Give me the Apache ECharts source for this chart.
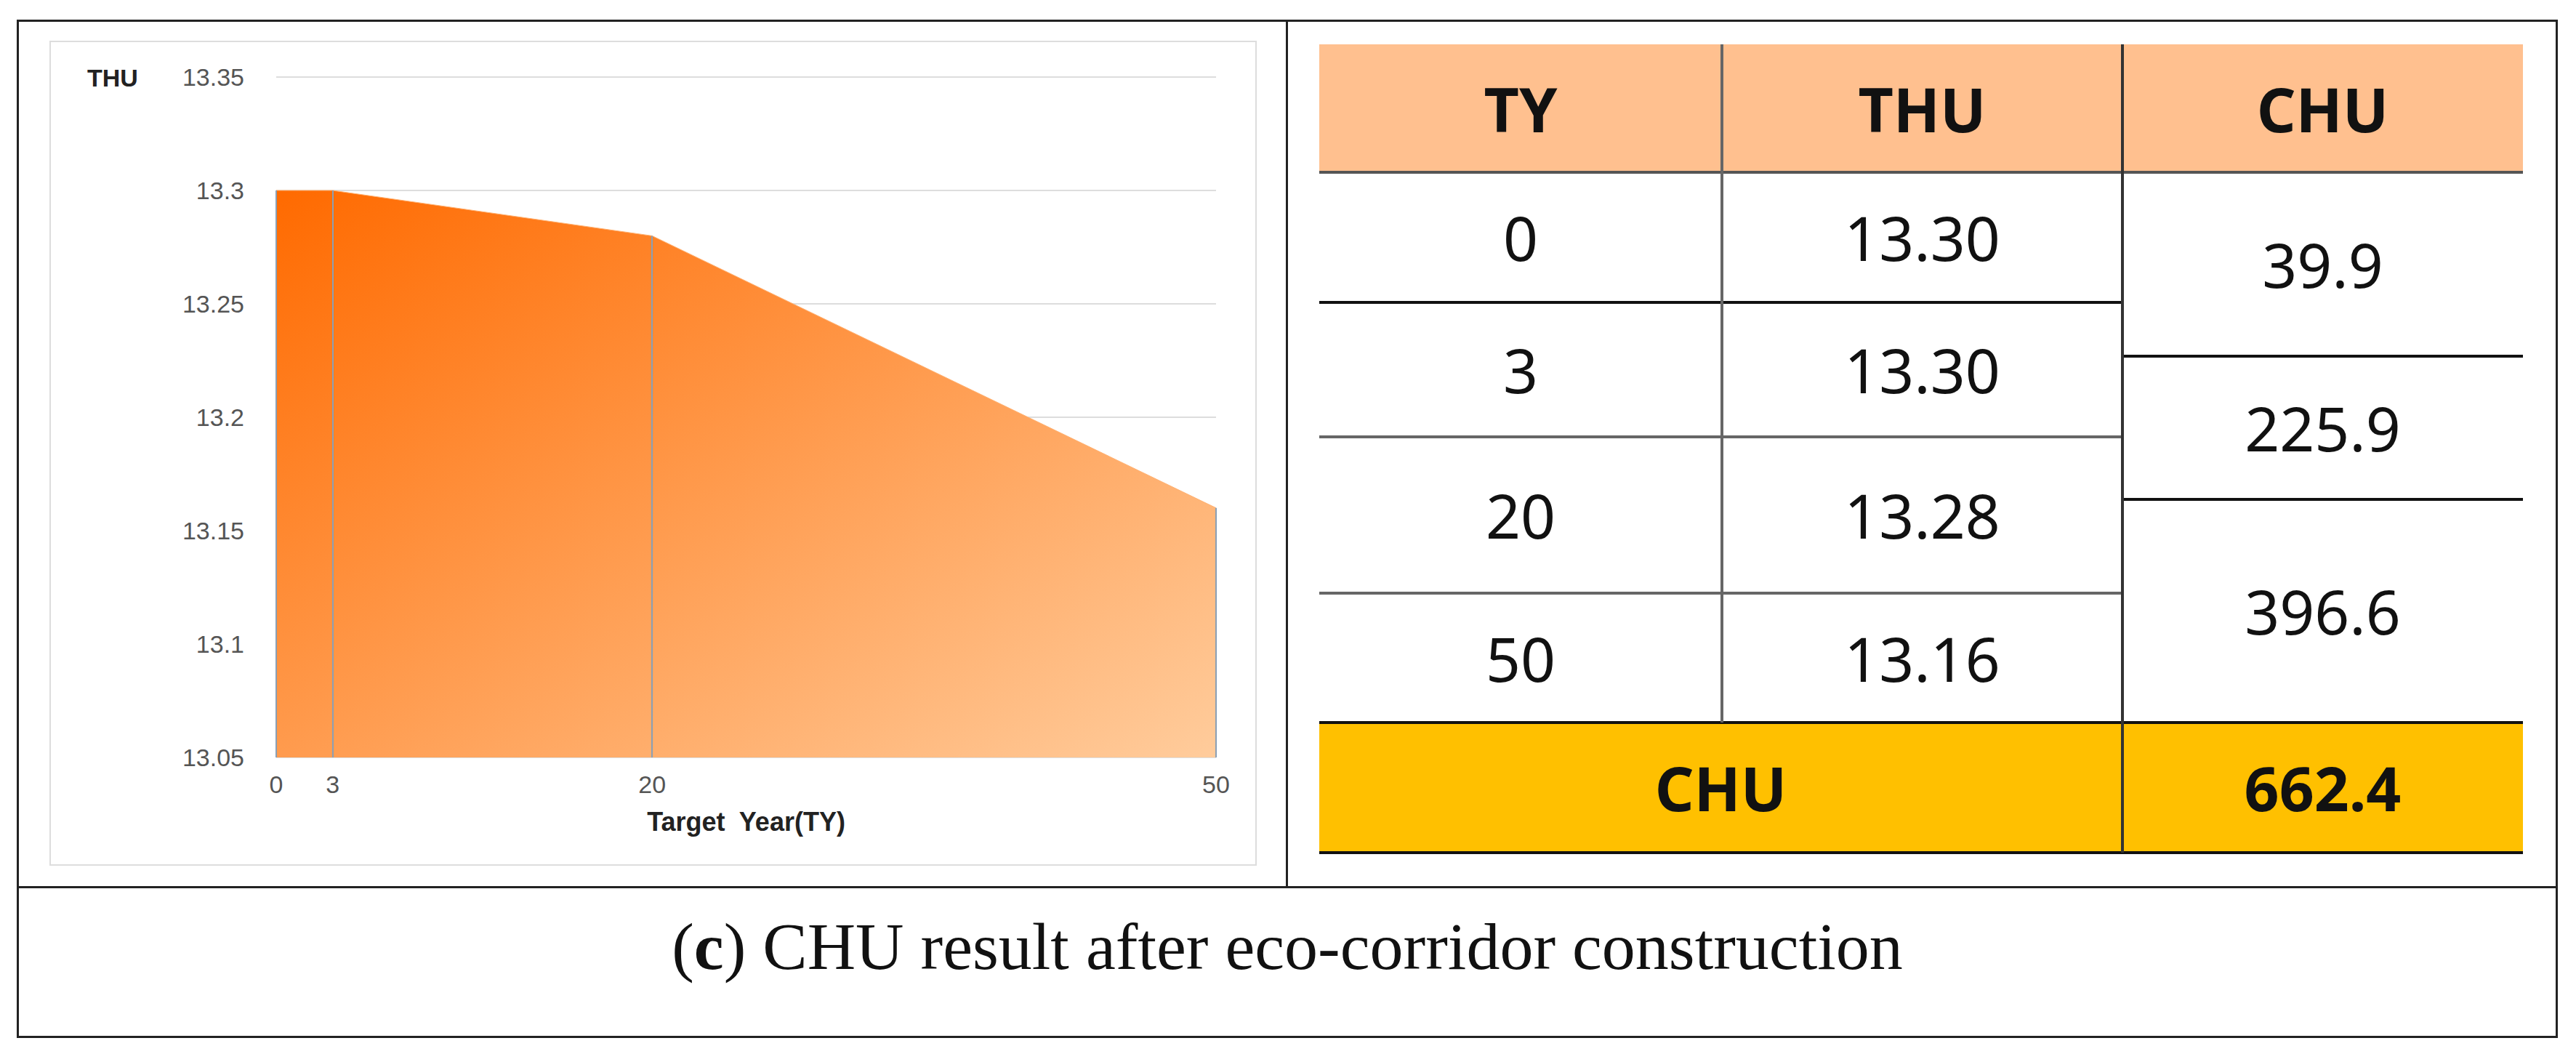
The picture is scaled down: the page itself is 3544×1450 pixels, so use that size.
<!DOCTYPE html>
<html><head><meta charset="utf-8">
<script src="https://cdn.jsdelivr.net/npm/echarts@6/dist/echarts.min.js"></script>
<style>
body{margin:0;width:3544px;height:1450px;background:#fff;position:relative;overflow:hidden;font-family:"Malgun Gothic","Noto Sans",sans-serif}
.abs{position:absolute;box-sizing:border-box}
.cell{display:flex;align-items:center;justify-content:center;font-size:84px;color:#111}
</style></head><body>
<div class="abs" style="left:23px;top:27px;width:3496px;height:1401px;border:3px solid #222"></div>
<div class="abs" style="left:1769px;top:27px;width:3px;height:1194px;background:#222"></div>
<div class="abs" style="left:23px;top:1219px;width:3496px;height:3px;background:#222"></div>
<div class="abs" style="left:68px;top:56px;width:1661px;height:1135px;border:2px solid #ddd"></div>
<div id="chart" class="abs" style="left:68px;top:56px;width:1661px;height:1135px"></div>
<div id="table"></div>
<div class="abs" style="left:23px;top:1222px;width:3496px;height:160px;display:flex;align-items:center;justify-content:center;font-family:'Liberation Serif','DejaVu Serif',serif;font-size:92px;color:#111">(<b>c</b>)&nbsp;CHU result after eco-corridor construction</div>
<script>
const years=[0,3,20,50];
const thu=[13.30,13.30,13.28,13.16];
const chuIntervals=['39.9','225.9','396.6'];
const chuTotal='662.4';
const headers=['TY','THU','CHU'];

const chart=echarts.init(document.getElementById('chart'),null,{renderer:'svg'});
chart.setOption({
  animation:false,
  grid:{left:312,top:50,width:1293,height:936},
  xAxis:{type:'value',min:0,max:50,name:'Target  Year(TY)',nameLocation:'middle',nameGap:70,
    nameTextStyle:{fontSize:36,fontWeight:'bold',color:'#222'},
    axisLine:{show:false},axisTick:{show:false},splitLine:{show:false},
    axisLabel:{fontSize:34,color:'#555',margin:20,customValues:years}},
  yAxis:{type:'value',min:13.05,max:13.35,interval:0.05,
    axisLine:{show:false},axisTick:{show:false},
    splitLine:{lineStyle:{color:'#ddd',width:2}},
    axisLabel:{fontSize:34,color:'#555',margin:44,formatter:v=>String(+v.toFixed(2))}},
  graphic:[{type:'text',left:52,top:34,style:{text:'THU',fontSize:34,fontWeight:'bold',fill:'#222'}}],
  series:[{type:'line',data:years.map((y,i)=>[y,thu[i]]),symbol:'none',
    lineStyle:{width:1,color:'#ffb070'},
    areaStyle:{origin:'start',opacity:1,color:{type:'linear',x:0,y:0,x2:1,y2:1,colorStops:[{offset:0,color:'#FF6A00'},{offset:1,color:'#FFCC9C'}]}},
    markLine:{symbol:'none',silent:true,label:{show:false},lineStyle:{type:'solid',color:'#8a9fb5',width:2},
      data:years.map((y,i)=>[{coord:[y,13.05]},{coord:[y,thu[i]]}])}}]
});

const colX=[1815,2369,2920,3471];
const rowY=[61,237,416,601,816,994,1173];
const chuY=[237,490,687,994];
let h='';
const box=(x,y,w,hh,txt,st)=>`<div class="abs cell" style="left:${x}px;top:${y}px;width:${w}px;height:${hh}px;${st||''}">${txt}</div>`;
const line=(x,y,w,hh,c)=>`<div class="abs" style="left:${x}px;top:${y}px;width:${w}px;height:${hh}px;background:${c}"></div>`;
h+=line(colX[0],rowY[0],colX[3]-colX[0],rowY[1]-rowY[0],'#FFC08F');
headers.forEach((t,i)=>h+=box(colX[i],rowY[0],colX[i+1]-colX[i],rowY[1]-rowY[0],t,'font-weight:bold;font-size:84px'));
years.forEach((y,i)=>{
  h+=box(colX[0],rowY[i+1],colX[1]-colX[0],rowY[i+2]-rowY[i+1],y);
  h+=box(colX[1],rowY[i+1],colX[2]-colX[1],rowY[i+2]-rowY[i+1],thu[i].toFixed(2));
  if(i<3) h+=line(colX[0],rowY[i+2]-2,colX[2]-colX[0],4,i==0?'#111':'#666');
});
chuIntervals.forEach((c,i)=>{
  h+=box(colX[2],chuY[i],colX[3]-colX[2],chuY[i+1]-chuY[i],c);
  if(i<2) h+=line(colX[2],chuY[i+1]-2,colX[3]-colX[2],4,'#111');
});
h+=line(colX[0],rowY[5],colX[3]-colX[0],rowY[6]-rowY[5],'#FFC000');
h+=box(colX[0],rowY[5],colX[2]-colX[0],rowY[6]-rowY[5],'CHU','font-weight:bold;font-size:84px');
h+=box(colX[2],rowY[5],colX[3]-colX[2],rowY[6]-rowY[5],chuTotal,'font-weight:bold;font-size:84px');
h+=line(colX[0],rowY[1]-2,colX[3]-colX[0],4,'#555');
h+=line(colX[0],rowY[5]-2,colX[3]-colX[0],4,'#111');
h+=line(colX[0],rowY[6]-2,colX[3]-colX[0],4,'#111');
h+=line(colX[1]-2,rowY[0],4,rowY[5]-rowY[0],'#666');
h+=line(colX[2]-2,rowY[0],4,rowY[6]-rowY[0],'#333');
document.getElementById('table').innerHTML=h;
</script>
</body></html>
